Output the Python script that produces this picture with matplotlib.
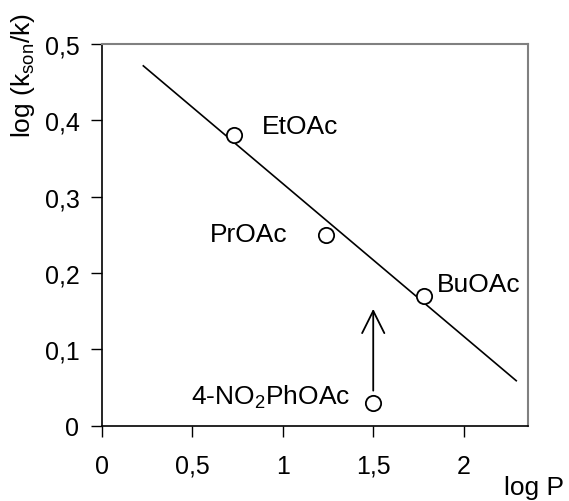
import matplotlib
matplotlib.use("Agg")
import matplotlib.pyplot as plt
from matplotlib.patches import FancyArrowPatch

plt.rcParams['font.family'] = ['Liberation Sans', 'DejaVu Sans']

# Measured points
names = ["EtOAc", "PrOAc", "BuOAc", "4-NO$\\mathregular{_2}$PhOAc"]
log_p = [0.73, 1.24, 1.78, 1.50]
log_k = [0.38, 0.25, 0.17, 0.03]

# Linear fit drawn over the ester series
fit_x = [0.23, 2.29]
fit_slope = -0.2
fit_intercept = 0.517

# Arrow marking the shift of the nitrophenyl ester
arrow_x = 1.50
arrow_from = 0.046
arrow_to = 0.153

x_ticks = [0, 0.5, 1, 1.5, 2]
x_tick_labels = ["0", "0,5", "1", "1,5", "2"]
y_ticks = [0, 0.1, 0.2, 0.3, 0.4, 0.5]
y_tick_labels = ["0", "0,1", "0,2", "0,3", "0,4", "0,5"]

fig = plt.figure(figsize=(5.69, 5.02), dpi=100)
ax = fig.add_axes([101.7 / 569, 1 - 426.8 / 502, (528.0 - 101.7) / 569, (426.8 - 44.7) / 502])

ax.set_xlim(0, 2.355)
ax.set_ylim(0, 0.5)

fit_y = [fit_intercept + fit_slope * x for x in fit_x]
ax.plot(fit_x, fit_y, color="black", lw=1.2, zorder=2)

ax.plot(log_p, log_k, linestyle="none", marker="o", markersize=11,
        markerfacecolor="white", markeredgecolor="black", markeredgewidth=1.3, zorder=3)

arrow = FancyArrowPatch((arrow_x, arrow_from), (arrow_x, arrow_to),
                        arrowstyle="->,head_length=16,head_width=8",
                        mutation_scale=1, color="black", lw=1.3, shrinkA=0, shrinkB=0)
ax.add_patch(arrow)

fs_tick = 18
fs = 19
label_pos = [(0.885, 0.392, "left"), (0.60, 0.251, "left"), (1.85, 0.186, "left"), (1.372, 0.038, "right")]
for name, (lx, ly, ha) in zip(names, label_pos):
    ax.text(lx, ly, name, fontsize=fs, ha=ha, va="center")

ax.set_xticks(x_ticks)
ax.set_xticklabels(x_tick_labels)
ax.set_yticks(y_ticks)
ax.set_yticklabels(y_tick_labels)
ax.tick_params(axis="x", direction="out", length=8, width=1, pad=12, labelsize=fs_tick)
ax.tick_params(axis="y", direction="out", length=8, width=1, pad=8, labelsize=fs_tick)

for side in ("top", "right"):
    ax.spines[side].set_color("#808080")
    ax.spines[side].set_linewidth(1.5)
for side in ("left", "bottom"):
    ax.spines[side].set_color("black")
    ax.spines[side].set_linewidth(1.2)

ax.set_ylabel("log (k$\\mathregular{_{son}}$/k)", fontsize=fs)
ax.yaxis.set_label_coords(-0.152, 0.92)
fig.text(534 / 569, 1 - 488 / 502, "log P", fontsize=fs, ha="center", va="center")

fig.savefig("out.png", dpi=100)
